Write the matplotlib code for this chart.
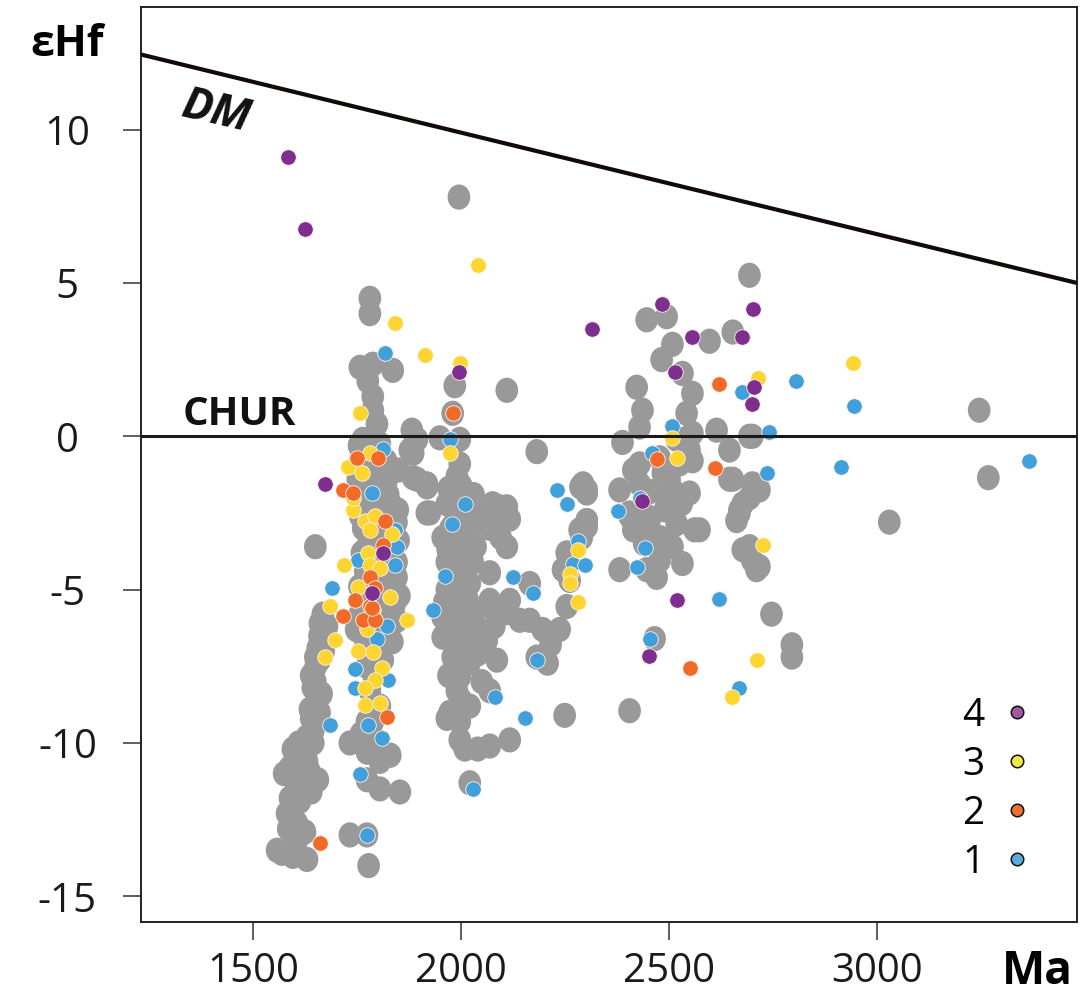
import matplotlib
matplotlib.use("Agg")
import matplotlib.pyplot as plt
from matplotlib.path import Path
from matplotlib.transforms import Affine2D
from matplotlib.lines import Line2D

plt.rcParams['font.family'] = ['Open Sans', 'DejaVu Sans']

# --- data: zircon U-Pb age (Ma) and initial epsilon Hf ---
gray_age = [
    1558, 1596, 1630, 1625, 1582, 1589, 1613, 1589, 1596, 1630, 1656, 1620, 1645, 1630,
    1640, 1637, 1644, 1640, 1651, 1656, 1660, 1661, 1668, 1650, 1678, 1575, 1605, 1600,
    1612, 1733, 1774, 1778,
    1665, 1670, 1660, 1650, 1655, 1645, 1660, 1610, 1625, 1640, 1600, 1672, 1648, 1635,
    1618, 1605, 1570, 1585, 1650, 1665,
    1781, 1781, 1757, 1788, 1836, 1788, 1788, 1798, 1764, 1805, 1776,
    1760, 1800, 1790, 1820, 1770, 1805, 1830, 1780, 1815, 1845, 1765, 1800, 1830, 1775,
    1810, 1845, 1770, 1800, 1830, 1760, 1815, 1840, 1770, 1800, 1830, 1757, 1846, 1790,
    1769, 1882, 1877, 1885, 1918, 1918,
    1755, 1785, 1820, 1850, 1752, 1790, 1825, 1848, 1758, 1795, 1822, 1850, 1762, 1785,
    1815, 1845, 1756, 1792, 1825, 1852, 1760, 1788, 1818, 1748, 1835,
    1733, 1774, 1774, 1805, 1774, 1805, 1853, 1788, 1781, 1798, 1781, 1800, 1790, 1774,
    1812, 1805, 1788, 1760, 1795, 1830,
    1995, 1985, 1980, 1894, 1885, 1949, 1997, 1997, 1894, 1918, 1990, 1990, 1925, 1966,
    2021, 1956, 2021, 1997, 1966, 2028, 1966, 2021, 2021, 1997, 1956, 2040, 1980, 2040,
    1997, 2062, 2069, 2069, 2110, 2076, 2110, 2117, 2069, 2110, 2182, 2165, 2165, 2069,
    2021, 1973, 1956, 1997, 2009, 2069, 1997, 2117, 2086, 2110, 1980, 2000, 1985, 2010,
    1975, 2005, 1990, 2040, 2021, 1966,
    1970, 2000, 2030, 1975, 2010, 1968, 2005, 2035, 1985, 2015, 1960, 1995, 2030, 1975,
    2010, 1985, 2020, 1970, 2000, 2050, 1990, 2015, 2055, 2085, 2095, 2080,
    2293, 2302, 2302, 2285, 2245, 2261, 2254, 2117, 2069, 2237, 2093, 2141, 2182, 2196,
    2215, 2208, 2249, 2290,
    2446, 2494, 2508, 2482, 2532, 2422, 2556, 2436, 2542, 2429, 2388, 2518, 2556, 2614,
    2597, 2653, 2693, 2693, 2645, 2653, 2700, 2677, 2717, 2414, 2477, 2525, 2549, 2302,
    2381, 2405, 2446, 2508, 2549, 2414, 2477, 2518, 2561, 2532, 2381, 2446, 2501, 2693,
    2717, 2302, 2662, 2669, 2677, 2700, 2710, 2573, 2746, 2795, 2795, 2405, 2465, 2477,
    2470, 2501, 2556, 2525, 2645, 2693, 2669, 2693, 2254, 2287, 2302, 2405, 2453, 2470,
    2508, 2501, 2429, 2429, 2700, 2455, 2490, 2530, 2440, 2485,
    3245, 3267, 3029,
]
gray_ehf = [
    -13.5, -13.7, -13.8, -12.9, -12.3, -11.8, -11.9, -10.8, -10.2, -10.6, -11.2, -10.4, -10.0, -9.8,
    -9.2, -8.9, -8.2, -7.8, -7.5, -6.9, -6.5, -6.1, -5.8, -3.6, -6.2, -11.0, -12.6, -11.2,
    -10.9, -13.0, -13.0, -14.0,
    -6.6, -7.0, -7.3, -8.0, -8.6, -9.6, -9.0, -10.0, -11.3, -11.6, -12.0, -6.4, -9.4, -10.9,
    -11.5, -13.2, -13.6, -12.8, -7.2, -8.4,
    4.5, 4.0, 2.25, 2.35, 2.15, 1.3, 0.85, 0.4, -0.1, -0.25, 1.8,
    -0.6, -0.9, -1.3, -1.5, -1.7, -2.0, -2.2, -2.3, -2.7, -2.8, -3.0, -3.2, -3.5, -3.6,
    -3.9, -4.1, -4.4, -4.6, -4.8, -5.0, -5.2, -5.5, -5.8, -6.0, -6.2, -5.8, -6.0, -6.5,
    -6.6, 0.2, -0.45, -1.35, -1.55, -2.5,
    -0.3, -0.5, -0.8, -1.1, -1.4, -1.8, -1.9, -2.4, -2.6, -2.9, -3.3, -3.4, -3.8, -4.0,
    -4.3, -4.6, -4.9, -5.1, -5.4, -5.2, -6.2, -6.3, -6.6, -6.3, -6.7,
    -10.0, -9.3, -10.3, -10.6, -11.2, -11.5, -11.6, -9.8, -7.4, -8.8, -8.3, -7.0, -7.8, -7.5,
    -7.3, -8.8, -9.3, -9.7, -10.0, -10.4,
    7.8, 1.65, 0.75, -0.1, -0.55, -0.05, -0.1, -0.9, -1.4, -1.65, -1.3, -2.0, -2.5, -2.2,
    -2.5, -3.3, -3.0, -3.8, -4.1, -4.1, -5.0, -4.8, -5.6, -6.0, -6.55, -6.55, -7.2, -7.1,
    -7.85, -6.65, -4.45, -5.55, -5.75, -2.2, -2.3, -2.7, -3.0, -3.6, -0.5, -6.0, -4.8, -8.3,
    -8.8, -9.0, -5.9, -9.9, -10.2, -10.1, -9.3, -9.9, -7.3, 1.5, -4.5, -5.2, -2.8, -3.4,
    -6.3, -6.8, -8.3, -10.2, -11.3, -9.2,
    -1.7, -1.6, -1.9, -3.0, -2.6, -3.7, -4.4, -3.6, -5.0, -5.3, -5.4, -5.7, -6.0, -6.0,
    -6.3, -6.9, -7.4, -7.8, -8.6, -8.0, -4.2, -4.0, -2.6, -2.8, -3.3, -6.2,
    -1.55, -1.85, -2.75, -3.05, -4.35, -4.7, -5.55, -5.35, -5.35, -6.3, -2.3, -6.0, -7.2, -6.3,
    -6.8, -7.4, -9.1, -3.3,
    3.8, 3.9, 3.0, 2.5, 2.05, 1.6, 1.4, 0.85, 0.75, 0.3, -0.2, -0.1, 0.1, 0.2,
    3.1, 3.4, 5.25, 0.0, -0.45, -1.4, -1.55, -2.2, -1.75, -1.1, -0.7, -0.9, -0.45, -1.75,
    -1.75, -2.5, -2.6, -1.75, -1.85, -3.05, -3.3, -2.85, -3.05, -4.15, -4.35, -4.35, -3.5, -3.7,
    -4.25, -2.75, -2.75, -2.4, -3.7, -4.05, -4.35, -3.05, -5.8, -6.8, -7.2, -8.95, -6.6, -4.05,
    -4.6, -1.4, -0.8, -0.1, -1.4, -2.0, -2.5, -3.6, -3.8, -1.65, -2.95, -2.6, -2.75, -3.4,
    -3.6, -2.0, -0.9, -1.55, 0.0, -1.8, -2.4, -2.2, -3.5, -1.2,
    0.85, -1.35, -2.8,
]

# group 1 (blue)
g1_age = [1817, 1786, 1841, 1973, 2009, 1978, 1961, 2124, 2173, 1690, 1752, 1841, 1933, 1822,
          1798, 1745, 1824, 1745, 1685, 1776, 1810, 1757, 1774, 2081, 2153, 2028, 2182, 2230,
          2254, 2280, 2268, 2297, 2377, 2422, 2441, 2460, 2508, 2429, 2806, 2944, 2741, 2734,
          2914, 2674, 3365, 2621, 2669, 2455, 1846, 1812]
g1_ehf = [2.7, -1.85, -3.05, -0.1, -2.2, -2.85, -4.55, -4.6, -5.1, -4.95, -4.05, -4.2, -5.65, -6.2,
          -6.6, -7.6, -7.95, -8.2, -9.4, -9.4, -9.85, -11.0, -13.0, -8.5, -9.2, -11.5, -7.3, -1.75,
          -2.2, -3.4, -4.15, -4.2, -2.45, -4.25, -3.65, -0.55, 0.35, -2.0, 1.8, 1.0, 0.15, -1.2,
          -1.0, 1.45, -0.8, -5.3, -8.2, -6.6, -3.6, -0.4]

# group 2 (orange)
g2_age = [1980, 1750, 1800, 1716, 1740, 1817, 1812, 1781, 1793, 1745, 1781, 1716, 1764, 1793,
          1786, 1822, 1661, 2621, 2611, 2472, 2549]
g2_ehf = [0.75, -0.7, -0.7, -1.75, -1.85, -2.75, -3.55, -4.6, -4.95, -5.35, -5.55, -5.85, -6.0, -6.0,
          -5.6, -9.15, -13.25, 1.7, -1.05, -0.75, -7.55]

# group 3 (yellow)
g3_age = [1841, 1913, 1997, 2040, 1757, 1973, 1728, 1762, 1781, 1740, 1769, 1793, 1781, 1834,
          1776, 1781, 1805, 1719, 1752, 1829, 1685, 1788, 1870, 1774, 1697, 1673, 1752, 1788,
          1810, 1793, 1769, 1769, 1805, 2280, 2261, 2261, 2280, 2508, 2520, 2941, 2714, 2726,
          2712, 2650, 1740]
g3_ehf = [3.7, 2.65, 2.4, 5.6, 0.75, -0.55, -1.0, -1.2, -0.55, -2.4, -2.75, -2.6, -3.05, -3.2,
          -3.8, -4.2, -4.3, -4.2, -4.9, -5.25, -5.55, -5.65, -6.0, -6.3, -6.65, -7.2, -7.0, -7.05,
          -7.55, -7.95, -8.2, -8.75, -8.7, -3.7, -4.5, -4.8, -5.4, -0.05, -0.7, 2.4, 1.9, -3.55,
          -7.3, -8.5, -2.0]

# group 4 (purple)
g4_age = [1584, 1625, 1673, 1812, 1786, 1995, 2314, 2482, 2556, 2513, 2674, 2702, 2705, 2700,
          2436, 2518, 2451]
g4_ehf = [9.1, 6.75, -1.55, -3.8, -5.1, 2.1, 3.5, 4.3, 3.25, 2.1, 3.25, 4.15, 1.6, 1.05,
          -2.1, -5.35, -7.15]

# depleted mantle reference line
dm_age = [1231, 3480]
dm_ehf = [12.45, 5.0]

group_labels = ['4', '3', '2', '1']
group_colors = ['#7d2e8e', '#fdd530', '#f26a2a', '#41a0db']
legend_colors = ['#a456a6', '#f2e640', '#ef6e33', '#5aaadd']

fig = plt.figure(figsize=(10.86, 9.97), dpi=100)
ax = fig.add_axes([0.1298, 0.0752, 0.8619, 0.9178])

# slightly tall oval marker for the compiled data
oval = Path.unit_circle().transformed(Affine2D().scale(0.9, 1.0))
ax.scatter(gray_age, gray_ehf, s=330, marker=oval, color='#999999', edgecolors='none', zorder=2)

for a, e, c in [(g1_age, g1_ehf, group_colors[3]),
                (g3_age, g3_ehf, group_colors[1]),
                (g2_age, g2_ehf, group_colors[2]),
                (g4_age, g4_ehf, group_colors[0])]:
    ax.scatter(a, e, s=125, color=c, edgecolors='#fff3e6', linewidths=0.6, zorder=3)

ax.plot(dm_age, dm_ehf, color='#120a08', lw=3.0, zorder=4, solid_capstyle='butt')
ax.axhline(0, color='#1a1a1a', lw=2.2, zorder=4)

ax.text(1412, 10.55, 'DM', fontsize=32, fontweight='bold', fontstyle='italic',
        rotation=-13, ha='center', va='center', color='#111111')
ax.text(1467, 0.7, 'CHUR', fontsize=29, fontweight='bold', ha='center', va='center',
        color='#111111')

ax.set_xlim(1231, 3480)
ax.set_ylim(-15.84, 14.0)
ax.set_xticks([1500, 2000, 2500, 3000])
ax.set_yticks([-15, -10, -5, 0, 5, 10])
ax.set_yticklabels(['-15', '-10', '-5', '0', '5', '10'], ha='center')
ax.tick_params(axis='both', direction='out', length=13, width=1.1, color='#333333',
               labelsize=29, labelcolor='#1a1a1a')
ax.tick_params(axis='x', pad=8)
ax.tick_params(axis='y', pad=40)
for sp in ax.spines.values():
    sp.set_linewidth(1.4)
    sp.set_color('#222222')

fig.text(0.062, 0.955, 'εHf', fontsize=31, fontweight='bold', ha='center', va='center')
fig.text(0.955, 0.026, 'Ma', fontsize=33, fontweight='bold', ha='center', va='center')

handles = [Line2D([], [], ls='none', marker='o', markersize=9, markerfacecolor=c,
                  markeredgecolor='#111111', markeredgewidth=1.1) for c in legend_colors]
ax.legend(handles, group_labels, loc='lower right', bbox_to_anchor=(0.957, 0.044),
          frameon=False, markerfirst=False, fontsize=28, handlelength=1.0,
          handletextpad=0.35, labelspacing=0.28, borderpad=0, borderaxespad=0)

fig.savefig('out.png', dpi=100)
